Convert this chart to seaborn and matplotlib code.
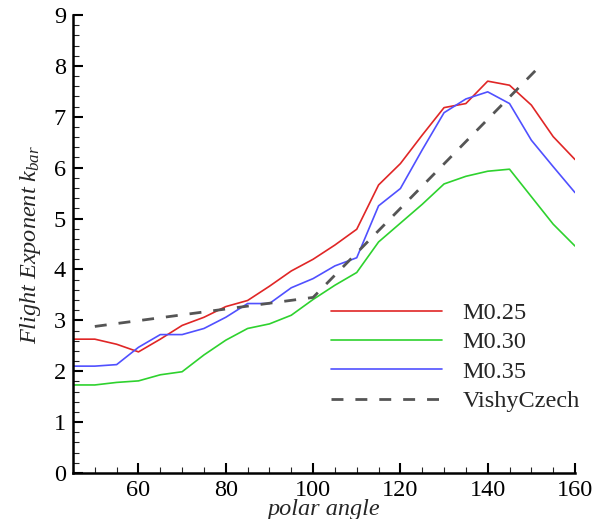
import numpy as np
import pandas as pd
import seaborn as sns
import matplotlib.pyplot as plt
from matplotlib.ticker import MultipleLocator

# polar angles (deg) shared by the three Mach-number series
angles = [45, 50, 55, 60, 65, 70, 75, 80, 85, 90, 95, 100, 105, 110,
          115, 120, 125, 130, 135, 140, 145, 150, 155, 160]

m025 = [2.63, 2.63, 2.53, 2.38, 2.63, 2.90, 3.06, 3.27, 3.39, 3.67, 3.97, 4.20,
        4.48, 4.79, 5.66, 6.08, 6.64, 7.18, 7.26, 7.70, 7.62, 7.23, 6.61, 6.16]
m030 = [1.73, 1.73, 1.78, 1.81, 1.93, 1.99, 2.32, 2.61, 2.84, 2.93, 3.10, 3.41,
        3.69, 3.94, 4.54, 4.91, 5.28, 5.68, 5.83, 5.93, 5.97, 5.43, 4.89, 4.46]
m035 = [2.10, 2.10, 2.13, 2.47, 2.72, 2.72, 2.84, 3.06, 3.33, 3.33, 3.64, 3.82,
        4.07, 4.23, 5.25, 5.59, 6.35, 7.08, 7.35, 7.49, 7.26, 6.54, 6.02, 5.51]

vc_angles = [50, 100, 152]
vc_vals = [2.88, 3.45, 8.0]

series_names = ["M0.25", "M0.30", "M0.35"]
series_colors = ["#e02626", "#2ed22e", "#5050ff"]

df = pd.DataFrame({
    "angle": angles * 3,
    "k": m025 + m030 + m035,
    "case": [n for n in series_names for _ in angles],
})
vc_df = pd.DataFrame({"angle": vc_angles, "k": vc_vals})

sns.set_style("ticks")
plt.rcParams['font.family'] = ['Liberation Serif', 'DejaVu Serif']
plt.rcParams['mathtext.fontset'] = 'custom'
plt.rcParams['mathtext.it'] = 'Liberation Serif:italic'
plt.rcParams['mathtext.rm'] = 'Liberation Serif'

fs = 17.5
fig = plt.figure(figsize=(5.94, 5.19), dpi=100)
ax = fig.add_axes([73 / 594, 46 / 519, 502 / 594, 458 / 519])

sns.lineplot(data=df, x="angle", y="k", hue="case", palette=series_colors,
             linewidth=1.2, ax=ax)
sns.lineplot(data=vc_df, x="angle", y="k", color="#555555", linewidth=2.0,
             dashes=False, ax=ax, label="VishyCzech")
ax.lines[-1].set_dashes([4.3, 4.3])

ax.set_xlim(45, 160)
ax.set_ylim(0, 9)
ax.xaxis.set_major_locator(MultipleLocator(20))
ax.xaxis.set_minor_locator(MultipleLocator(5))
ax.yaxis.set_major_locator(MultipleLocator(1))
ax.yaxis.set_minor_locator(MultipleLocator(0.2))
ax.tick_params(which="major", direction="in", length=7, width=1.5,
               labelsize=fs, colors="black", pad=5)
ax.tick_params(which="minor", direction="in", length=4, width=0.8)

sns.despine(ax=ax)
for s in ["left", "bottom"]:
    ax.spines[s].set_linewidth(1.8)
    ax.spines[s].set_color("black")

ax.set_xlabel("polar angle", fontsize=fs, style="italic", labelpad=-1.5)
ax.set_ylabel(r"$Flight\ Exponent\ k_{bar}$", fontsize=fs, labelpad=8)

leg = ax.legend(loc="center left", bbox_to_anchor=(0.514, 0.253), frameon=False,
                fontsize=fs, handlelength=4.57, handletextpad=0.83,
                labelspacing=0.30, borderpad=0, borderaxespad=0)
leg.get_lines()[-1].set_dashes([4.3, 4.3])

fig.savefig("out.png", dpi=100)
